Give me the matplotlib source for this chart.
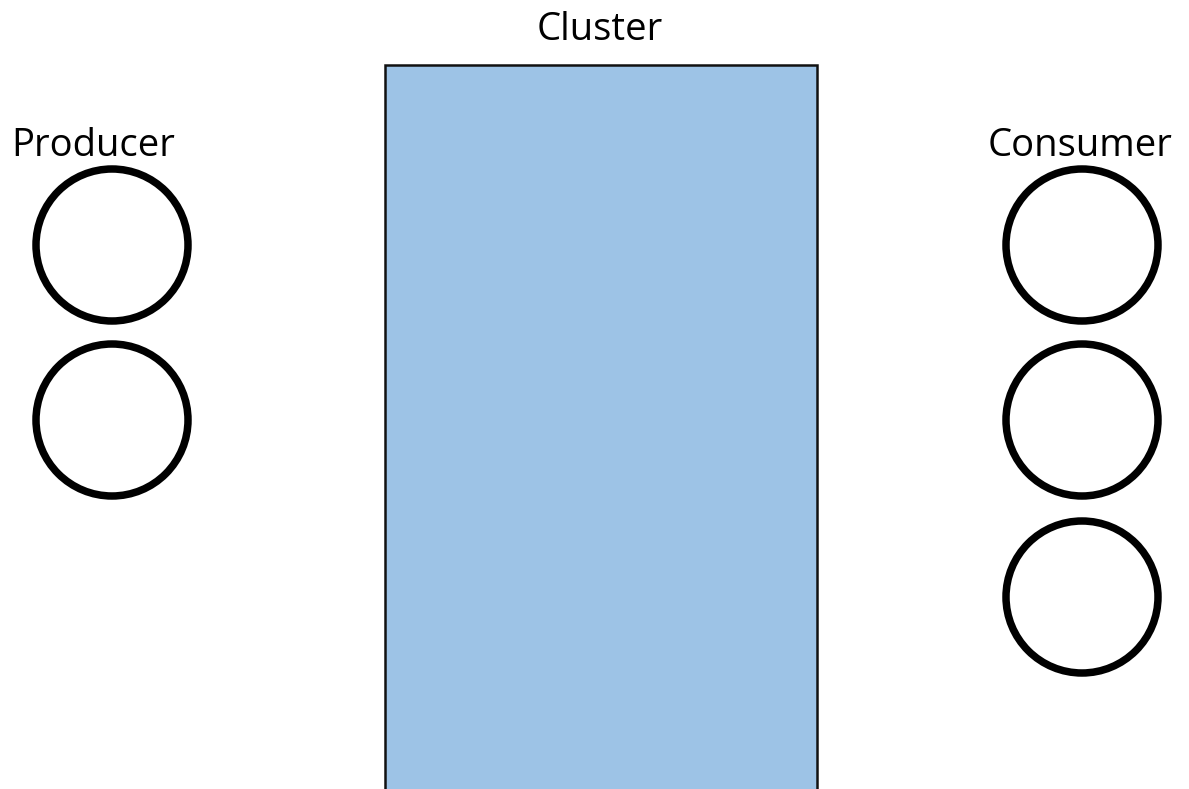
import matplotlib.pyplot as plt
from matplotlib.patches import Circle, Rectangle

# diagram layout in pixel coordinates (y grows downward)
groups = ["Producer", "Cluster", "Consumer"]
producer_x = 112
producer_y = [245, 420]
consumer_x = 1082
consumer_y = [245, 420, 597]
circle_r = 76
cluster_box = (385, 65, 432, 730)  # left, top, width, height
label_pos = [(93, 146), (600, 30), (1080, 146)]

fig = plt.figure(figsize=(11.89, 7.89), dpi=100)
ax = fig.add_axes([0, 0, 1, 1])
ax.set_xlim(0, 1189)
ax.set_ylim(789, 0)
ax.set_aspect("equal")
ax.axis("off")

x0, y0, w, h = cluster_box
ax.add_patch(Rectangle((x0, y0), w, h, facecolor="#9DC3E6", edgecolor="#111111", linewidth=1.8))

for y in producer_y:
    ax.add_patch(Circle((producer_x, y), circle_r, facecolor="white", edgecolor="black", linewidth=5.4))
for y in consumer_y:
    ax.add_patch(Circle((consumer_x, y), circle_r, facecolor="white", edgecolor="black", linewidth=5.4))

for name, (tx, ty) in zip(groups, label_pos):
    ax.text(tx, ty, name, ha="center", va="center", fontsize=27.5, family=["Open Sans", "DejaVu Sans"])

fig.savefig("out.png", dpi=100)
